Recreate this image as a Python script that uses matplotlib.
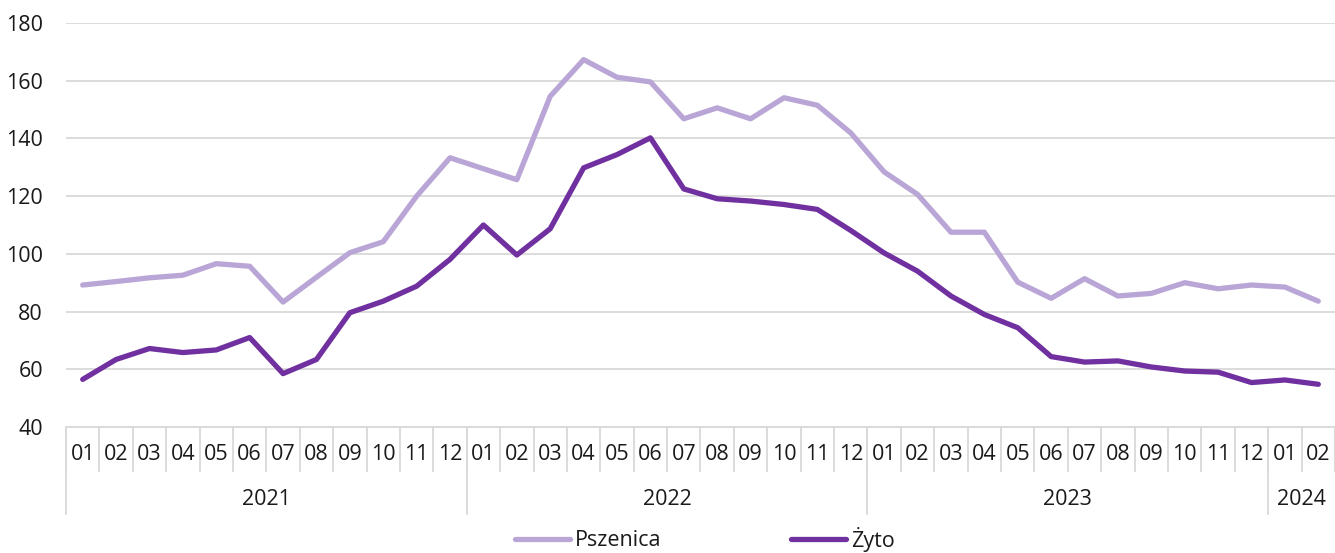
import matplotlib
matplotlib.use("Agg")
import matplotlib.pyplot as plt
import matplotlib.transforms as mtransforms

months = ["01","02","03","04","05","06","07","08","09","10","11","12"] * 3 + ["01","02"]
years = ["2021", "2022", "2023", "2024"]
year_counts = [12, 12, 12, 2]

pszenica = [89.2, 90.4, 91.7, 92.6, 96.6, 95.7, 83.3, 91.9, 100.4, 104.2, 120.0, 133.3,
            129.5, 125.7, 154.6, 167.3, 161.2, 159.6, 146.8, 150.6, 146.8, 154.1, 151.5, 141.9,
            128.4, 120.6, 107.5, 107.5, 90.2, 84.6, 91.4, 85.4, 86.3, 90.0, 87.9, 89.2,
            88.5, 83.6]
zyto = [56.5, 63.4, 67.2, 65.8, 66.7, 71.0, 58.5, 63.4, 79.6, 83.6, 88.8, 98.1,
        110.0, 99.6, 108.7, 129.8, 134.4, 140.2, 122.5, 119.1, 118.3, 117.1, 115.4, 108.1,
        100.3, 94.0, 85.4, 79.0, 74.4, 64.4, 62.5, 62.9, 60.8, 59.4, 59.0, 55.4,
        56.3, 54.8]
series_names = ["Pszenica", "Żyto"]
colors = ["#B9A6D6", "#7030A0"]
yticks = [40, 60, 80, 100, 120, 140, 160, 180]

plt.rcParams['font.family'] = ['Open Sans', 'DejaVu Sans']
FS = 15.5
TXT = "#1a1a1a"
W, H = 1335, 553
fig = plt.figure(figsize=(W/100, H/100), dpi=100)
ax = fig.add_axes([66/W, 1-427/H, (1335-66)/W, (427-23)/H])

x = list(range(len(months)))
grid_c = "#D9D9D9"
ax.plot(x, pszenica, color=colors[0], lw=3.8, label=series_names[0], solid_joinstyle='round', solid_capstyle='round', zorder=3)
ax.plot(x, zyto, color=colors[1], lw=3.8, label=series_names[1], solid_joinstyle='round', solid_capstyle='round', zorder=4)

ax.set_xlim(-0.5, len(months)-0.5)
ax.set_ylim(40, 180)
ax.set_yticks(yticks)
ax.yaxis.grid(True, color=grid_c, lw=1.3)
ax.set_axisbelow(True)
for s in ["top", "right", "left"]:
    ax.spines[s].set_visible(False)
ax.spines["bottom"].set_color(grid_c)
ax.spines["bottom"].set_linewidth(1.3)
ax.tick_params(axis='y', length=0, pad=16.5, labelsize=FS, labelcolor=TXT)
ax.set_xticks([])

trans = mtransforms.blended_transform_factory(ax.transData, ax.transAxes)
# month separators and labels
for i in range(len(months) + 1):
    ax.plot([i-0.5, i-0.5], [0, -0.109], transform=trans, color=grid_c, lw=1.3, clip_on=False)
for i, m in enumerate(months):
    ax.text(i, -0.069, m, transform=trans, ha='center', va='center', fontsize=FS, color=TXT)
# year separators and labels
start = 0
for y, c in zip(years, year_counts):
    if start < len(months):
        ax.plot([start-0.5, start-0.5], [0, -0.215], transform=trans, color=grid_c, lw=1.3, clip_on=False)
    ax.text(start + c/2 - 0.5, -0.18, y, transform=trans, ha='center', va='center', fontsize=FS, color=TXT)
    start += c

leg = fig.legend(loc='center', bbox_to_anchor=(705/W, 1-539/H), ncol=2, frameon=False,
                 fontsize=FS, handlelength=2.55, columnspacing=6.0, handletextpad=0.25,
                 borderpad=0.1)
for t in leg.get_texts():
    t.set_color(TXT)

fig.savefig("out.png", dpi=100)
